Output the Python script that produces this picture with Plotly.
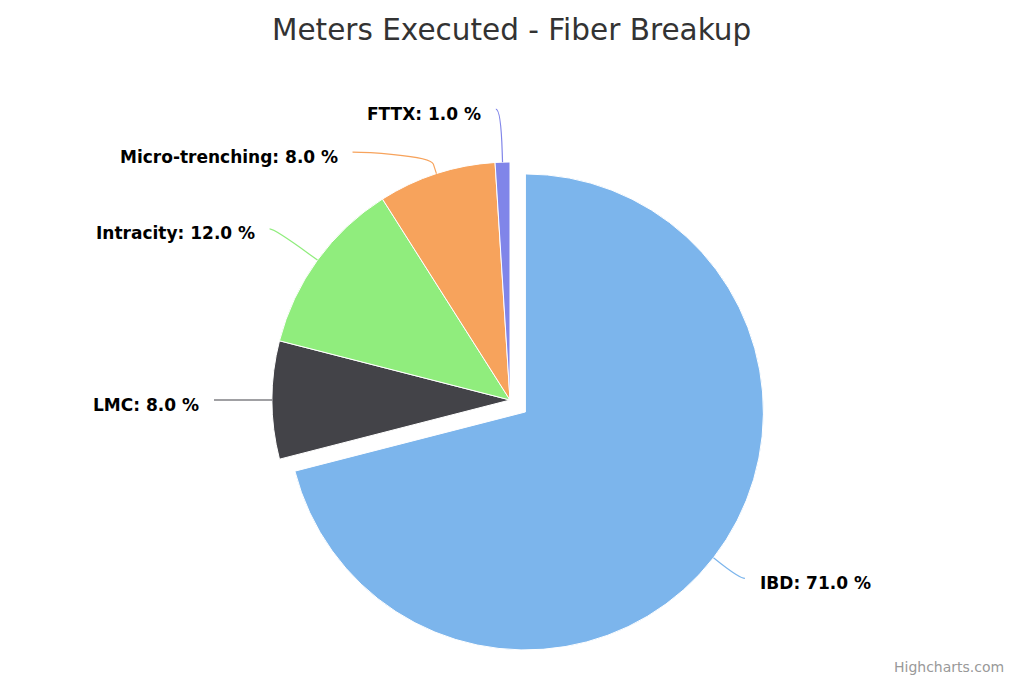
import math
import plotly.graph_objects as go

# ---------------- data ----------------
categories = ["IBD", "LMC", "Intracity", "Micro-trenching", "FTTX"]
values = [71.0, 8.0, 12.0, 8.0, 1.0]
colors = ["#7cb5ec", "#434348", "#90ed7d", "#f7a35c", "#8085e9"]
sliced = [True, False, False, False, False]
title_text = "Meters Executed - Fiber Breakup"
credit_text = "Highcharts.com"

# ---------------- layout parameters (window pixels) ----------------
OFF = 8                               # default body margin of the html page
FW, FH = 1024 - 2 * OFF, 683 - 2 * OFF
CX, CY, R = 510.0, 400.0, 238.0      # pie centre and radius (window px)
SLICE_OFFSET = 19.5                   # pull of the sliced point
LABEL_R = R + 53                      # radius on which labels sit
BREAK = 10                            # connector break outside pie
MIN_GAP = 43                          # min vertical gap between labels on one side
FONT = "DejaVu Sans"


def px(x):
    return (x - OFF) / FW


def py(y):
    return 1 - (y - OFF) / FH


pull_frac = SLICE_OFFSET / R
box = 2 * R * (1 + pull_frac)
dom_x = [px(CX - box / 2), px(CX + box / 2)]
dom_y = [py(CY + box / 2), py(CY - box / 2)]

fig = go.Figure(
    go.Pie(
        labels=categories,
        values=values,
        marker=dict(colors=colors, line=dict(color="#ffffff", width=1)),
        pull=[pull_frac if s else 0 for s in sliced],
        sort=False,
        direction="clockwise",
        rotation=0,
        textinfo="none",
        hovertemplate="%{label}: %{percent:.1%}<extra></extra>",
        domain=dict(x=dom_x, y=dom_y),
        showlegend=False,
    )
)

# ---------------- labels with connectors, computed from the data ----------------
total = sum(values)
cum = 0.0
items = []
for lab, v, col, s in zip(categories, values, colors, sliced):
    theta = math.radians(360.0 * (cum + v / 2) / total)
    cum += v
    dx, dy = math.sin(theta), -math.cos(theta)
    ccx = CX + (SLICE_OFFSET * dx if s else 0)
    ccy = CY + (SLICE_OFFSET * dy if s else 0)
    items.append(dict(
        label=lab, value=v, color=col,
        left=dx < 0,
        ex=ccx + R * dx, ey=ccy + R * dy,
        bx=ccx + (R + BREAK) * dx, by=ccy + (R + BREAK) * dy,
        y=CY + LABEL_R * dy,
    ))

# simple collision avoidance per side (top to bottom)
for side in (True, False):
    group = sorted([it for it in items if it["left"] == side], key=lambda d: d["y"])
    prev = None
    for it in group:
        if prev is not None and it["y"] < prev + MIN_GAP:
            it["y"] = prev + MIN_GAP
        prev = it["y"]

shapes = []
annotations = []
for it in items:
    ddy = it["y"] - CY
    half = math.sqrt(max(LABEL_R ** 2 - ddy ** 2, 0))
    x = CX - half if it["left"] else CX + half
    sgn = -1 if it["left"] else 1
    x_end = x + sgn * 5
    c2x = 2 * it["bx"] - it["ex"]
    c2y = 2 * it["by"] - it["ey"]
    path = (f"M {px(x_end)},{py(it['y'])} C {px(x)},{py(it['y'])} "
            f"{px(c2x)},{py(c2y)} {px(it['bx'])},{py(it['by'])} "
            f"L {px(it['ex'])},{py(it['ey'])}")
    shapes.append(dict(type="path", path=path, xref="paper", yref="paper",
                       line=dict(color=it["color"], width=1.2)))
    annotations.append(dict(
        x=px(x + sgn * 18), y=py(it["y"] + 4.5), xref="paper", yref="paper",
        text=f"<b>{it['label']}: {it['value'] / total * 100:.1f} %</b>",
        showarrow=False, xanchor="right" if it["left"] else "left", yanchor="middle",
        font=dict(family=FONT, size=17, color="#000000"),
    ))

annotations.append(dict(
    x=px(1006), y=py(666.5), xref="paper", yref="paper", text=credit_text,
    showarrow=False, xanchor="right", yanchor="middle",
    font=dict(family=FONT, size=14, color="#999999"),
))
annotations.append(dict(
    x=px(511.5), y=py(30), xref="paper", yref="paper", text=title_text,
    showarrow=False, xanchor="center", yanchor="middle",
    font=dict(family=FONT, size=29.5, color="#333333"),
))

fig.update_layout(
    width=FW, height=FH,
    margin=dict(l=0, r=0, t=0, b=0),
    paper_bgcolor="#ffffff", plot_bgcolor="#ffffff",
    shapes=shapes,
    annotations=annotations,
)

fig.write_html("out.html")
